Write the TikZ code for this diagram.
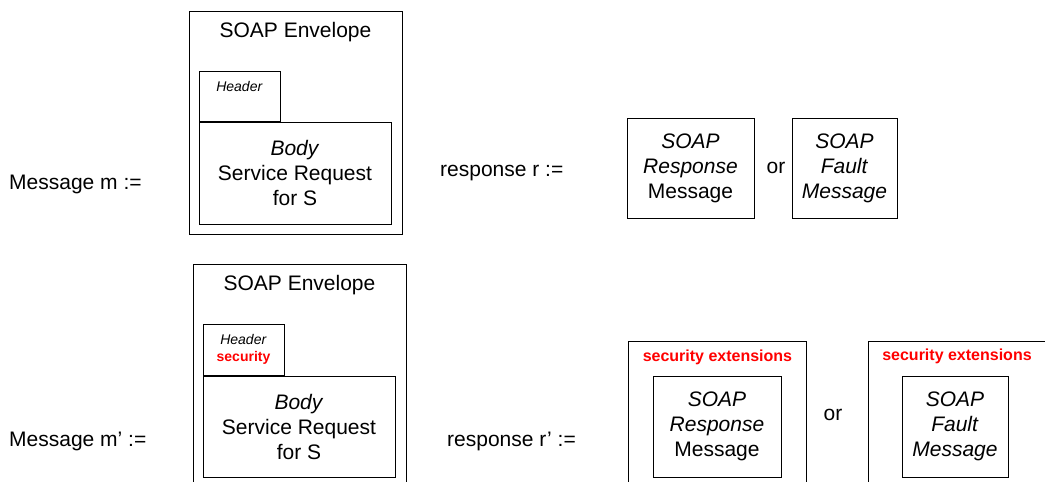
\documentclass[tikz,border=0pt]{standalone}
\usepackage{fontspec}
\setmainfont{Liberation Sans}
\usepackage{xcolor}
\definecolor{secred}{RGB}{255,0,0}
\usetikzlibrary{positioning}

\begin{document}
\begin{tikzpicture}[
    x=1pt, y=-1pt,
    msgbox/.style={rectangle, draw=black, line width=0.9pt, inner sep=0pt},
    bigtxt/.style={font=\fontsize{21}{25}\selectfont, inner sep=0pt, align=center},
    hdrtxt/.style={font=\fontsize{14}{17}\selectfont, inner sep=0pt, align=center},
    sectxt/.style={font=\fontsize{16}{19}\selectfont\bfseries, text=secred, inner sep=0pt},
]
\useasboundingbox (0,0) rectangle (1045,482);
\clip (0,0) rectangle (1045,482);

% plain message m and response r
\node[bigtxt, anchor=west] (msg1) at (9,184) {Message m :=};
\node[msgbox, minimum width=213pt, minimum height=223pt] (env1) at (295.5,122.5) {};
\node[bigtxt, below=12pt of env1.north] (envtxt1) {SOAP Envelope};
\node[msgbox, bigtxt, minimum width=192pt, minimum height=102pt] (body1) at (295,173)
    {\textit{Body}\\Service Request\\for S};
\node[msgbox, minimum width=81pt, minimum height=50pt, anchor=south west] (hdr1) at (body1.north west) {};
\node[hdrtxt, below=11pt of hdr1.north] (hdrtxt1) {\textit{Header}};

\node[bigtxt, anchor=west] (resp1) at (440,173) {response r :=};
\node[msgbox, bigtxt, minimum width=127pt, minimum height=100pt] (soapresp1) at (690.5,168)
    {\textit{SOAP}\\\textit{Response}\\Message};
\node[bigtxt] (or1) at (776,168) {or};
\node[msgbox, bigtxt, minimum width=105pt, minimum height=100pt] (soapfault1) at (844.5,168)
    {\textit{SOAP}\\\textit{Fault}\\\textit{Message}};

% secured message m' and response r'
\node[bigtxt, anchor=west] (msg2) at (9,441) {Message m’ :=};
\node[msgbox, minimum width=213pt, minimum height=240pt] (env2) at (299.5,384) {};
\node[bigtxt, below=12pt of env2.north] (envtxt2) {SOAP Envelope};
\node[msgbox, bigtxt, minimum width=192pt, minimum height=101pt] (body2) at (299,426.5)
    {\textit{Body}\\Service Request\\for S};
\node[msgbox, hdrtxt, minimum width=81pt, minimum height=51pt, anchor=south west] (hdr2) at (body2.north west)
    {\textit{Header}\\\textcolor{secred}{\bfseries security}};

\node[bigtxt, anchor=west] (resp2) at (447,441) {response r’ :=};
\node[msgbox, minimum width=178pt, minimum height=160pt, anchor=north west] (secext1) at (628,341) {};
\node[sectxt, below=9pt of secext1.north] (sectxt1) {security extensions};
\node[msgbox, bigtxt, minimum width=128pt, minimum height=101pt] (soapresp2) at (717,426.5)
    {\textit{SOAP}\\\textit{Response}\\Message};
\node[bigtxt] (or2) at (833,415) {or};
\node[msgbox, minimum width=200pt, minimum height=160pt, anchor=north west] (secext2) at (868,341) {};
\node[sectxt] (sectxt2) at (957,356) {security extensions};
\node[msgbox, bigtxt, minimum width=106pt, minimum height=101pt] (soapfault2) at (955,426.5)
    {\textit{SOAP}\\\textit{Fault}\\\textit{Message}};

\end{tikzpicture}
\end{document}
